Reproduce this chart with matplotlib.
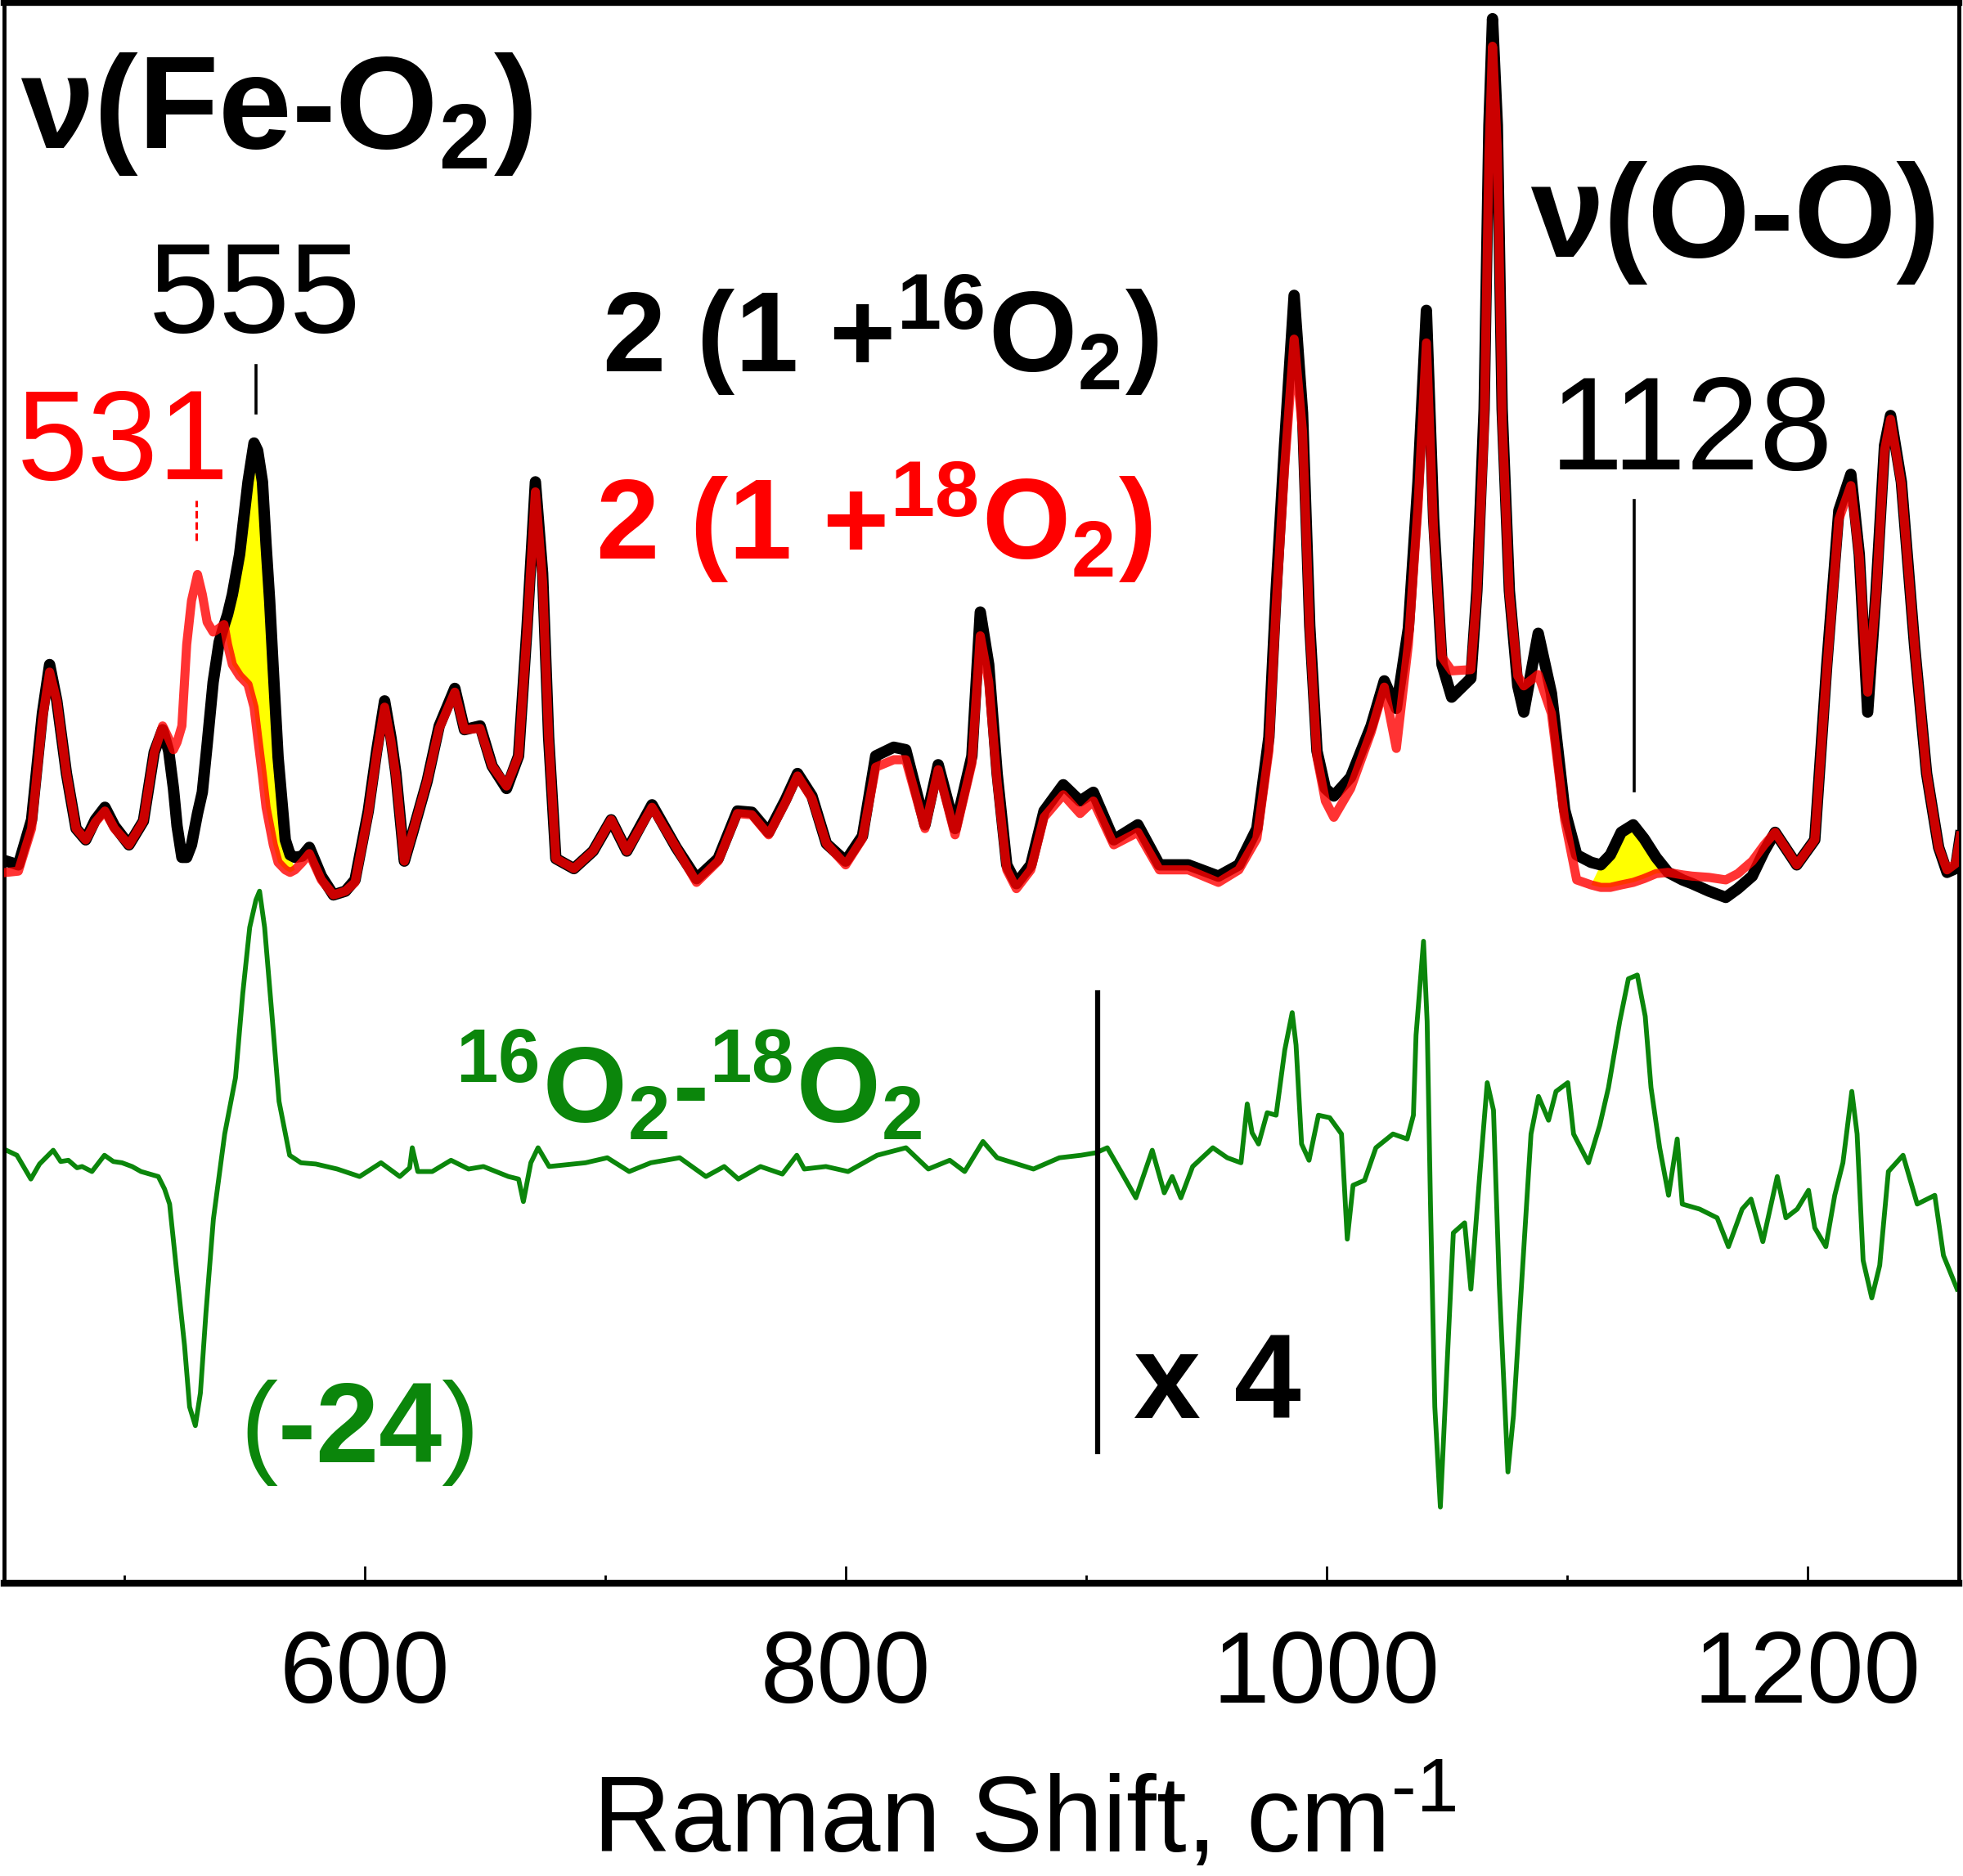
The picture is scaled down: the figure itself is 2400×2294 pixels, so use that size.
"""
Resonance Raman spectra of 2 (1 + 16O2) vs 2 (1 + 18O2) and their difference.
"""

import numpy as np
import matplotlib
matplotlib.use("Agg")
import matplotlib.pyplot as plt

plt.rcParams["font.family"] = ["Liberation Sans", "DejaVu Sans"]
plt.rcParams["mathtext.fontset"] = "custom"
plt.rcParams["mathtext.rm"] = "Liberation Sans"
plt.rcParams["mathtext.bf"] = "Liberation Sans:bold"
plt.rcParams["mathtext.it"] = "Liberation Sans:italic"

# Raman shift (cm-1) shared by both isotope spectra
shift = [451, 456, 461.5, 466, 469, 472, 476, 480, 484, 488, 492, 496, 502, 508,
         512.5, 516, 518.5, 520.5, 522, 524, 526, 528, 530.5, 532.5, 534.5, 537,
         539.5, 541.5, 543, 545, 548, 551.5, 554, 555.5, 557.5, 559, 560.5, 562,
         564, 567, 569, 571, 574, 577, 582, 587, 592, 596, 601.5, 605, 608.3, 611,
         613, 616.5, 620, 626, 631, 637.5, 641.5, 648, 653, 659, 664, 667.5, 671,
         674, 676.5, 679.5, 687, 695, 702.5, 709, 719.5, 729.5, 738, 747, 755, 761,
         768, 775, 780, 786, 792, 800, 807, 812.5, 820, 825, 833, 838.5, 845.5,
         852.5, 856, 859.5, 863, 867, 871, 877, 882.5, 890.5, 897.5, 903, 911.5,
         921.5, 930.5, 942.5, 955, 963.5, 971, 976, 979, 982.5, 986.5, 990, 993,
         996, 999.5, 1003, 1010, 1018.5, 1024, 1029, 1034, 1038, 1041.5, 1044.5,
         1048, 1052, 1060, 1062.5, 1065.5, 1067.5, 1069, 1071, 1073, 1076, 1079.5,
         1082, 1088, 1093.5, 1099, 1104, 1110, 1114, 1118, 1122.5, 1127.5, 1132,
         1137, 1142, 1148, 1152, 1159, 1166, 1171, 1177, 1182, 1186.5, 1195.5,
         1203, 1208, 1213, 1218, 1221.5, 1225, 1228.5, 1232, 1234.5, 1239, 1244.5,
         1249.5, 1254.5, 1258, 1261.5, 1263.5]

# 2 (1 + 16O2), black
int_16o2 = [5.77, 5.74, 6.10, 6.95, 7.34, 7.05, 6.47, 6.03, 5.94, 6.10, 6.20, 6.05,
            5.90, 6.09, 6.64, 6.82, 6.65, 6.35, 6.05, 5.80, 5.80, 5.90, 6.15, 6.32,
            6.70, 7.20, 7.52, 7.65, 7.74, 7.90, 8.22, 8.80, 9.11, 9.05, 8.80, 8.30,
            7.85, 7.30, 6.60, 5.94, 5.82, 5.80, 5.81, 5.88, 5.65, 5.50, 5.53, 5.62,
            6.17, 6.65, 7.05, 6.75, 6.47, 5.77, 6.00, 6.41, 6.85, 7.15, 6.82, 6.85,
            6.53, 6.35, 6.61, 7.63, 8.80, 8.07, 6.76, 5.79, 5.71, 5.85, 6.10, 5.85,
            6.22, 5.88, 5.63, 5.79, 6.17, 6.16, 6.00, 6.26, 6.47, 6.29, 5.91, 5.77,
            5.97, 6.61, 6.68, 6.66, 6.06, 6.54, 6.03, 6.61, 7.76, 7.34, 6.47, 5.74,
            5.59, 5.74, 6.17, 6.38, 6.25, 6.32, 5.94, 6.06, 5.74, 5.74, 5.65, 5.74,
            6.03, 6.76, 7.93, 9.09, 10.29, 9.35, 7.65, 6.65, 6.35, 6.29, 6.44, 6.85,
            7.21, 6.99, 7.63, 8.80, 10.17, 8.51, 7.34, 7.08, 7.23, 7.93, 9.38, 11.65,
            12.50, 11.65, 9.38, 7.93, 7.17, 6.96, 7.59, 7.11, 6.18, 5.82, 5.76, 5.74,
            5.82, 6.00, 6.06, 5.95, 5.80, 5.68, 5.62, 5.59, 5.53, 5.48, 5.55, 5.65,
            5.85, 6.00, 5.74, 5.94, 7.34, 8.57, 8.86, 8.22, 6.96, 7.93, 9.09, 9.33,
            8.80, 7.49, 6.47, 5.88, 5.68, 5.71, 5.97]

# 2 (1 + 18O2), red
int_18o2 = [5.68, 5.69, 6.03, 6.90, 7.28, 7.05, 6.47, 6.03, 5.94, 6.08, 6.17, 6.03,
            5.90, 6.09, 6.64, 6.85, 6.75, 6.66, 6.72, 6.85, 7.50, 7.85, 8.06, 7.90,
            7.68, 7.60, 7.63, 7.66, 7.50, 7.34, 7.25, 7.18, 7.00, 6.76, 6.45, 6.20,
            6.05, 5.90, 5.76, 5.70, 5.68, 5.70, 5.76, 5.83, 5.62, 5.50, 5.53, 5.60,
            6.15, 6.62, 7.00, 6.72, 6.45, 5.77, 6.00, 6.41, 6.83, 7.12, 6.82, 6.83,
            6.53, 6.37, 6.61, 7.60, 8.72, 8.00, 6.76, 5.79, 5.71, 5.85, 6.10, 5.85,
            6.20, 5.88, 5.60, 5.77, 6.15, 6.14, 5.98, 6.24, 6.45, 6.27, 5.91, 5.74,
            5.95, 6.52, 6.58, 6.58, 6.03, 6.50, 5.98, 6.55, 7.57, 7.20, 6.40, 5.70,
            5.55, 5.70, 6.12, 6.30, 6.15, 6.25, 5.90, 6.00, 5.70, 5.70, 5.60, 5.70,
            5.95, 6.65, 7.80, 8.90, 9.94, 9.20, 7.60, 6.60, 6.25, 6.12, 6.35, 6.80,
            7.16, 6.67, 7.50, 8.60, 9.91, 8.40, 7.40, 7.29, 7.30, 7.90, 9.20, 11.40,
            12.28, 11.45, 9.30, 7.90, 7.25, 7.17, 7.26, 6.95, 6.10, 5.62, 5.58, 5.56,
            5.56, 5.58, 5.60, 5.63, 5.67, 5.68, 5.66, 5.65, 5.64, 5.62, 5.67, 5.77,
            5.90, 6.00, 5.74, 5.94, 7.30, 8.50, 8.77, 8.20, 7.12, 7.90, 9.05, 9.30,
            8.78, 7.49, 6.47, 5.88, 5.70, 5.75, 5.97]

# 16O2 - 18O2 difference (x4 above 905 cm-1), green
diff_shift = [451, 455.4, 461.2, 464.8, 470.5, 473.6, 476.8, 480.4, 482.5, 486.6,
              491.8, 495.5, 499.1, 503.3, 507, 510.6, 514.2, 516.8, 518.9, 522,
              525.1, 527.2, 529.6, 531.7, 534, 537.1, 541.8, 546.3, 549.3, 552.2,
              554.8, 556.3, 558.4, 561.5, 564.4, 568.8, 573.5, 579.7, 588.6, 597.9,
              606.8, 614.6, 618.7, 619.8, 622.1, 628.1, 635.9, 643.2, 649.4, 659.8,
              664, 666, 669.1, 672.1, 676.7, 691.8, 700.9, 710, 719, 731, 741.9,
              749.5, 755.4, 764.6, 773.7, 779.7, 782.8, 791.8, 801, 813.1, 825.1,
              834.4, 843.3, 849.5, 857.1, 863, 878.1, 888.9, 897.9, 904.1, 908.8,
              914.5, 920.7, 927.5, 932.5, 935.8, 939.4, 944.3, 952.7, 958.7, 964.4,
              967, 969, 971.7, 975.3, 979, 982.6, 985.7, 987.3, 989.6, 992.7, 996.6,
              1001.3, 1006.2, 1008.6, 1011, 1015.8, 1020.5, 1027.6, 1033.5, 1036.1,
              1037.2, 1040.3, 1041.8, 1043.2, 1045, 1047.3, 1049.1, 1052.7, 1057.4,
              1060, 1063.5, 1066.8, 1069.4, 1071.8, 1075.4, 1077.7, 1081.3, 1085,
              1088.1, 1092.3, 1095.4, 1100.3, 1102.7, 1108.9, 1113.6, 1117.2, 1121.9,
              1125.5, 1129.2, 1132.5, 1134.9, 1138.5, 1142.2, 1145.8, 1147.9, 1155.1,
              1162.4, 1167.1, 1172.8, 1176.5, 1181.4, 1187.4, 1191, 1195.7, 1200.4,
              1203, 1207.6, 1211.3, 1214.7, 1218.4, 1220.6, 1223.1, 1226.7, 1230,
              1233.6, 1239.7, 1245.6, 1252.9, 1256.5, 1262.2]
diff_int = [3.46, 3.42, 3.23, 3.35, 3.46, 3.37, 3.38, 3.32, 3.33, 3.29, 3.42, 3.37,
            3.36, 3.33, 3.29, 3.27, 3.25, 3.15, 3.03, 2.46, 1.90, 1.41, 1.26, 1.52,
            2.16, 2.91, 3.59, 4.04, 4.71, 5.24, 5.46, 5.53, 5.24, 4.53, 3.85, 3.42,
            3.36, 3.35, 3.31, 3.25, 3.36, 3.25, 3.32, 3.48, 3.29, 3.29, 3.38, 3.31,
            3.33, 3.25, 3.23, 3.05, 3.36, 3.48, 3.33, 3.36, 3.40, 3.29, 3.36, 3.40,
            3.25, 3.33, 3.23, 3.33, 3.27, 3.42, 3.31, 3.33, 3.29, 3.42, 3.48, 3.31,
            3.38, 3.29, 3.53, 3.40, 3.31, 3.40, 3.42, 3.44, 3.48, 3.29, 3.08, 3.46,
            3.12, 3.25, 3.08, 3.33, 3.48, 3.40, 3.36, 3.83, 3.60, 3.51, 3.76, 3.74,
            4.26, 4.56, 4.30, 3.51, 3.38, 3.74, 3.72, 3.59, 2.75, 3.18, 3.22, 3.48,
            3.59, 3.55, 3.74, 4.38, 5.13, 4.49, 3.03, 1.41, 0.61, 1.34, 2.80, 2.88,
            2.35, 3.22, 4.00, 3.78, 2.39, 0.89, 1.34, 2.46, 3.59, 3.89, 3.70, 3.93,
            4.00, 3.59, 3.36, 3.66, 3.96, 4.49, 4.83, 4.86, 4.53, 3.96, 3.48, 3.10,
            3.55, 3.03, 2.99, 2.92, 2.69, 2.99, 3.07, 2.73, 3.25, 2.92, 2.99, 3.14,
            2.84, 2.69, 3.10, 3.36, 3.93, 3.59, 2.58, 2.28, 2.54, 3.29, 3.42, 3.03,
            3.10, 2.62, 2.35]

# isotope-sensitive bands shaded yellow
shade_ranges = [(540, 570), (1112, 1140)]

major_ticks = [600, 800, 1000, 1200]
minor_ticks = [500, 700, 900, 1100]

RED = "#ff0000"
GREEN = "#0b860b"


def main():
    fig = plt.figure(figsize=(24, 22.94), dpi=100)
    ax = fig.add_axes([0.002, 0.156, 0.996, 0.8427])

    x = np.array(shift)
    y16 = np.array(int_16o2)
    y18 = np.array(int_18o2)

    mask = np.zeros_like(x, dtype=bool)
    for lo, hi in shade_ranges:
        mask |= (x >= lo) & (x <= hi)
    ax.fill_between(x, y18, y16, where=mask & (y16 >= y18), interpolate=True,
                    color="#ffff00", lw=0, zorder=1)

    ax.plot(x, y16, color="black", lw=10, zorder=2, solid_joinstyle="round")
    ax.plot(x, y18, color=RED, alpha=0.8, lw=8, zorder=3, solid_joinstyle="round")
    ax.plot(diff_shift, diff_int, color=GREEN, lw=4.2, zorder=2,
            solid_joinstyle="round")

    # peak markers
    ax.plot([554.8, 554.8], [9.35, 9.73], color="black", lw=2.6)
    ax.plot([530, 530], [8.33, 8.65], color=RED, lw=2.2, ls=(0, (3, 1.5)))
    ax.plot([1127.8, 1127.8], [6.33, 8.65], color="black", lw=2.6)
    ax.plot([904.7, 904.7], [1.05, 4.72], color="black", lw=4.5)

    bold = dict(fontweight="bold")
    ax.text(457, 11.47, "ν(Fe-O$_{\\mathbf{2}}$)", fontsize=116, ha="left",
            va="baseline", **bold)
    ax.text(554.3, 10.0, "555", fontsize=112, ha="center", va="baseline")
    ax.text(499.6, 8.82, "531", fontsize=112, ha="center", va="baseline", color=RED)
    ax.text(698.8, 9.68, "2 (1 +$^{\\mathbf{16}}$O$_{\\mathbf{2}}$)", fontsize=100,
            ha="left", va="baseline", **bold)
    ax.text(696, 8.18, "2 (1 +$^{\\mathbf{18}}$O$_{\\mathbf{2}}$)", fontsize=100,
            ha="left", va="baseline", color=RED, **bold)
    ax.text(1084.6, 10.6, "ν(O-O)", fontsize=116, ha="left", va="baseline", **bold)
    ax.text(1151.7, 8.9, "1128", fontsize=116, ha="center", va="baseline")
    ax.text(637.4, 3.68, "$^{\\mathbf{16}}$O$_{\\mathbf{2}}$-$^{\\mathbf{18}}$O$_{\\mathbf{2}}$",
            fontsize=95, ha="left", va="baseline", color=GREEN, **bold)
    ax.text(548, 0.97, "$($-24$)$", fontsize=100, ha="left", va="baseline",
            color=GREEN, **bold)
    ax.text(919.8, 1.32, "x 4", fontsize=106, ha="left", va="baseline", **bold)

    ax.set_xlim(450, 1263)
    ax.set_ylim(0, 12.63)
    ax.set_yticks([])
    ax.set_xticks(major_ticks)
    ax.set_xticks(minor_ticks, minor=True)
    ax.tick_params(axis="x", which="major", direction="in", length=15, width=2,
                   labelsize=90, pad=40)
    ax.tick_params(axis="x", which="minor", direction="in", length=7, width=2)

    for side in ("top", "bottom"):
        ax.spines[side].set_linewidth(6)
    for side in ("left", "right"):
        ax.spines[side].set_linewidth(3.5)

    ax.set_xlabel("Raman Shift, cm$^{\\text{-}1}$", fontsize=95)
    ax.xaxis.set_label_coords(0.522, -0.1145)

    fig.savefig("out.png", dpi=100)


if __name__ == "__main__":
    main()
